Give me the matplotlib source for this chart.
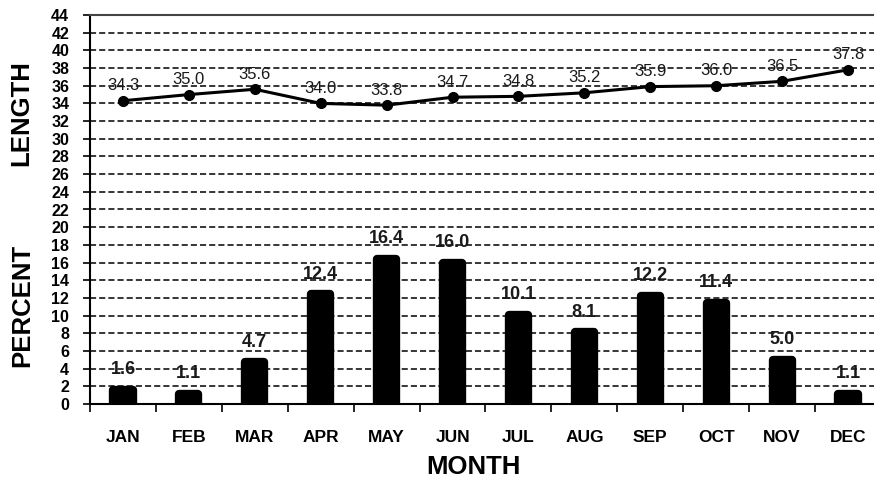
import matplotlib
matplotlib.use("Agg")
import matplotlib.pyplot as plt
import numpy as np

months = ["JAN", "FEB", "MAR", "APR", "MAY", "JUN", "JUL", "AUG", "SEP", "OCT", "NOV", "DEC"]
percent = [1.6, 1.1, 4.7, 12.4, 16.4, 16.0, 10.1, 8.1, 12.2, 11.4, 5.0, 1.1]
length = [34.3, 35.0, 35.6, 34.0, 33.8, 34.7, 34.8, 35.2, 35.9, 36.0, 36.5, 37.8]
yticks = list(range(0, 45, 2))

plt.rcParams['font.family'] = ['Liberation Sans', 'DejaVu Sans']

W, H = 874, 480
fig = plt.figure(figsize=(W / 100, H / 100), dpi=100)
left, right, top, bottom = 90, 881, 15, 404
ax = fig.add_axes([left / W, 1 - bottom / H, (right - left) / W, (bottom - top) / H])

x = np.arange(len(months))
ax.bar(x, percent, width=0.29, color="black", edgecolor="black", linewidth=6,
       joinstyle="round", zorder=3)
ax.plot(x, length, color="black", lw=2.2, marker="o", ms=7, zorder=4)

for xi, v in zip(x, percent):
    ax.text(xi, v + 2.3, f"{v:.1f}", ha="center", va="center", fontsize=13,
            fontweight="bold", color="#1a1a1a", zorder=5)
for xi, v in zip(x, length):
    ax.text(xi, v + 1.7, f"{v:.1f}", ha="center", va="center", fontsize=12,
            color="#1a1a1a", zorder=5)

ax.set_xlim(-0.5, len(months) - 0.5)
ax.set_ylim(0, 44)
ax.set_yticks(yticks)
ax.set_yticklabels([str(t) for t in yticks], fontsize=11.5, fontweight="bold")
ax.set_xticks(x)
ax.set_xticklabels(months, fontsize=12.5, fontweight="bold")
ax.set_xticks(np.arange(-0.5, len(months), 1.0), minor=True)
ax.tick_params(axis="x", which="major", length=0, pad=19)
ax.tick_params(axis="x", which="minor", length=6, width=1.2, direction="out")
ax.tick_params(axis="y", length=5, width=1.2, pad=10)

for t in yticks[1:-1]:
    ax.axhline(t, color="black", lw=1.1, ls=(0, (4, 2)), zorder=1)

for s in ["left", "bottom", "top"]:
    ax.spines[s].set_linewidth(1.5)
ax.spines["top"].set_color("#444444")
ax.spines["right"].set_visible(False)

fig.text(21 / W, 1 - 113 / H, "LENGTH", rotation=90, ha="center", va="center",
         fontsize=18.5, fontweight="bold")
fig.text(22 / W, 1 - 305 / H, "PERCENT", rotation=90, ha="center", va="center",
         fontsize=18.5, fontweight="bold")
fig.text(473 / W, 1 - 467 / H, "MONTH", ha="center", va="center",
         fontsize=18.5, fontweight="bold")

fig.savefig("out.png", dpi=100)
